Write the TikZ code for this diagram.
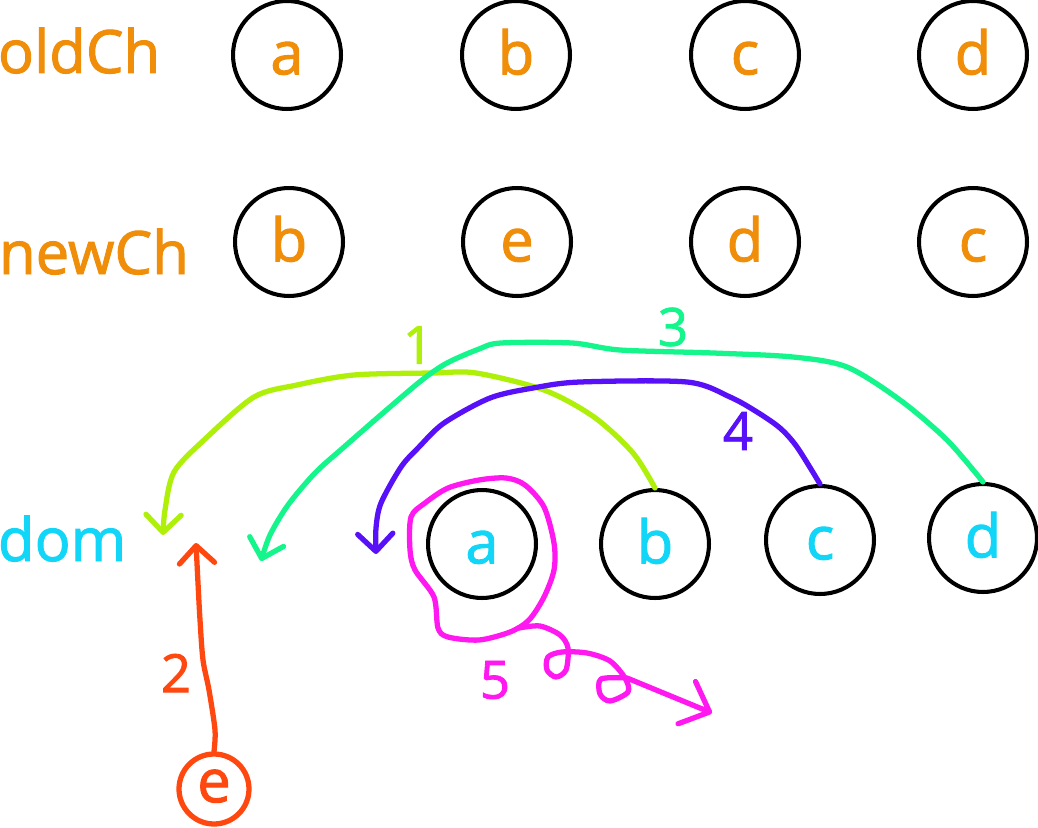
\documentclass[tikz,border=0pt]{standalone}
\usepackage{fontspec}
\setmainfont{Open Sans}[FakeBold=1.6]
\usetikzlibrary{arrows.meta}

\definecolor{naranja}{RGB}{240,142,10}
\definecolor{celeste}{RGB}{18,214,248}
\definecolor{lima}{RGB}{174,240,10}
\definecolor{verde}{RGB}{20,246,140}
\definecolor{violeta}{RGB}{88,16,248}
\definecolor{rojo}{RGB}{255,72,16}
\definecolor{fucsia}{RGB}{255,24,240}

\begin{document}
\begin{tikzpicture}
  [x=0.02cm,y=-0.02cm,
   every node/.style={circle,draw=black,line width=2.3pt,minimum size=2.16cm,inner sep=0pt,
     text height=22pt,text depth=0pt,font=\fontsize{34}{40}\selectfont},
   fila/.style={draw=none,shape=rectangle,anchor=base west,inner sep=0pt,minimum size=0pt,
     text height=,text depth=},
   trazo/.style={line width=3pt,line cap=round,line join=round},
   punta/.style={-{Straight Barb[length=10pt,width=20pt,round]}},
   num/.style={draw=none,minimum size=0pt,text height=,text depth=,font=\fontsize{30}{30}\selectfont}]

  \fill[white] (0,0) rectangle (1038,828);
  \useasboundingbox (0,0) rectangle (1038,828);

  % Etiquetas de las filas
  \node[fila,text=naranja] (lold) at (-4,73) {oldCh};
  \node[fila,text=naranja] (lnew) at (-3,274) {newCh};
  \node[fila,text=celeste] (ldom) at (-4,561) {dom};

  % Fila oldCh
  \node[text=naranja] (o1) at (287,55) {a};
  \node[text=naranja] (o2) at (516,55) {b};
  \node[text=naranja] (o3) at (745,55) {c};
  \node[text=naranja] (o4) at (973,55) {d};

  % Fila newCh
  \node[text=naranja] (n1) at (289,242) {b};
  \node[text=naranja] (n2) at (517,242) {e};
  \node[text=naranja] (n3) at (745,242) {d};
  \node[text=naranja] (n4) at (973,242) {c};

  % Fila dom
  \node[text=celeste] (d1) at (482,544) {a};
  \node[text=celeste] (d2) at (655,544) {b};
  \node[text=celeste] (d3) at (820,540) {c};
  \node[text=celeste] (d4) at (983,538) {d};

  % Nodo nuevo e
  \node[draw=rojo,text=rojo,line width=3pt,minimum size=1.4cm,text height=15pt,
    font=\fontsize{34}{34}\selectfont] (ne) at (214,789) {e};

  % Puntos finales de las flechas
  \coordinate (f1) at (163,535);
  \coordinate (f2) at (196,543);
  \coordinate (f3) at (261,561);
  \coordinate (f4) at (376,554);
  \coordinate (f5) at (712,713);

  % Paso 1
  \draw[trazo,punta,lima] plot[smooth] coordinates {(d2.north) (633,453) (594,417) (544,390)
    (476,373) (433,373) (354,375) (297,385) (254,397) (204,440) (174,472) (165,510) (f1)};
  \node[num,text=lima] (p1) at (418,345) {1};

  % Paso 2
  \draw[trazo,punta,rojo] plot[smooth] coordinates {(ne.north) (215,730) (209,690)
    (203,660) (200,620) (198,583) (f2)};
  \node[num,text=rojo] (p2) at (176,673) {2};

  % Paso 3
  \draw[trazo,punta,verde] plot[smooth] coordinates {(d4.north) (947,440) (900,400)
    (847,367) (793,357) (713,353) (620,350) (572,343) (501,343) (479,349) (447,363)
    (422,380) (383,413) (344,447) (315,473) (288,505) (270,535) (f3)};
  \node[num,text=verde] (p3) at (673,327) {3};

  % Paso 4
  \draw[trazo,punta,violeta] plot[smooth] coordinates {(d3.north) (797,447) (780,428)
    (757,412) (730,397) (687,382) (580,382) (533,388) (490,398) (444,423) (419,447)
    (401,467) (381,503) (376,528) (f4)};
  \node[num,text=violeta] (p4) at (738,431) {4};

  % Paso 5
  \draw[trazo,fucsia] plot[smooth cycle] coordinates {(434,597) (415,570) (410,550)
    (411,517) (425,503) (448,488) (479,480) (506,478) (525,485) (544,507) (554,543)
    (554,570) (544,597) (529,620) (510,632) (479,640) (448,637) (438,628)};
  \draw[trazo,fucsia,-{Straight Barb[length=14pt,width=26pt,round]}] plot[smooth]
    coordinates {(519,628) (540,626) (560,635) (568,648) (566,670) (556,677) (547,670)
    (548,657) (562,652) (587,653) (610,661) (625,678) (628,692) (610,701) (600,694)
    (601,679) (627,678)} -- (f5);
  \node[num,text=fucsia] (p5) at (495,680) {5};

\end{tikzpicture}
\end{document}
